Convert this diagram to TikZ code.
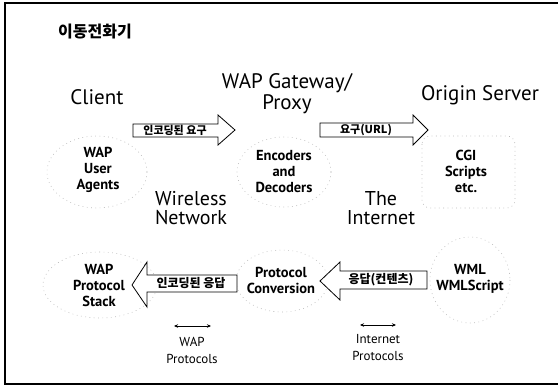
\documentclass[tikz,border=0pt]{standalone}
\usepackage{fontspec}
\setmainfont{PT Sans}
\newfontfamily\kr{Noto Sans CJK KR}
\usetikzlibrary{arrows.meta}

\tikzset{
  heading/.style={font=\fontsize{21}{21}\selectfont, inner sep=0pt, align=center},
  zone/.style={font=\fontsize{20}{19.5}\selectfont, inner sep=0pt, align=center},
  part/.style={font=\bfseries\fontsize{14.5}{16}\selectfont, inner sep=0pt, align=center},
  proto/.style={font=\fontsize{13}{17}\selectfont, inner sep=0pt, align=center},
  blockarrow/.style={draw=black, line width=0.8pt, fill=white, line join=miter},
  arrowtext/.style={font=\kr\bfseries\fontsize{11}{11}\selectfont, inner sep=0pt},
  halo/.style={draw=gray!55, line width=0.6pt, dash pattern=on 0.8pt off 3.5pt},
  span/.style={{Stealth[length=4pt,width=3.5pt]}-{Stealth[length=4pt,width=3.5pt]}, line width=0.8pt},
  frame/.style={line width=2pt}
}

\begin{document}
\begin{tikzpicture}[x=1pt,y=-1pt]
\useasboundingbox (0,0) rectangle (558,385);

% page frame (left, top, bottom edges)
\draw[frame] (558,3) -- (5,3) -- (5,384) -- (558,384);

% title
\node[font=\kr\bfseries\fontsize{16}{16}\selectfont, inner sep=0pt] (title) at (95,32) {이동전화기};

% column headings
\node[heading] (client) at (97,97) {Client};
\node[heading] (gateway) at (287,94) {WAP Gateway/\\Proxy};
\node[heading] (origin) at (480,95) {Origin Server};

% dotted halos round the components
\draw[halo] (97,172) ellipse [x radius=50, y radius=36];
\draw[halo] (284,172) ellipse [x radius=47, y radius=35];
\draw[halo] (100,285) ellipse [x radius=57, y radius=33];
\draw[halo] (282,281) ellipse [x radius=46, y radius=31];
\draw[halo] (470,280) ellipse [x radius=40, y radius=43];
\draw[halo, rounded corners=8pt] (422,136) rectangle (515,208);

% components
\node[part] (agents) at (98,170) {WAP\\User\\Agents};
\node[part] (codec) at (284,172) {Encoders\\and\\Decoders};
\node[part] (cgi) at (466,171) {CGI\\Scripts\\etc.};
\node[part] (stack) at (99,285) {WAP\\Protocol\\Stack};
\node[part] (conv) at (281,280) {Protocol\\Conversion};
\node[part] (wml) at (470,279) {WML\\WMLScript};

% network zones
\node[zone] (wireless) at (191,208) {Wireless\\Network};
\node[zone] (internet) at (381,208) {The\\Internet};

% request arrows (left to right)
\draw[blockarrow] (133,124) -- (218,124) -- (218,115) -- (235,130)
  -- (218,145) -- (218,137) -- (133,137) -- cycle;
\node[arrowtext] (req1) at (175,130.5) {인코딩된 요구};

\draw[blockarrow] (320,123) -- (413,123) -- (413,115) -- (428,130)
  -- (413,145) -- (413,137) -- (320,137) -- cycle;
\node[arrowtext] (req2) at (366,130) {요구(URL)};

% response arrows (right to left)
\draw[blockarrow] (237,275) -- (147,275) -- (147,262) -- (132,285)
  -- (147,307) -- (147,292) -- (237,292) -- cycle;
\node[arrowtext, font=\kr\bfseries\fontsize{12}{12}\selectfont] (resp1) at (191,283.5) {인코딩된 응답};

\draw[blockarrow] (427,271) -- (340,271) -- (340,262) -- (320,281)
  -- (340,300) -- (340,289) -- (427,289) -- cycle;
\node[arrowtext, font=\kr\bfseries\fontsize{12}{12}\selectfont] (resp2) at (381,280) {응답(컨텐츠)};

% protocol spans
\coordinate (wapL) at (174,326);
\coordinate (wapR) at (211,326);
\draw[span] (wapL) -- (wapR);
\node[proto] (wapproto) at (192,350) {WAP\\Protocols};

\coordinate (inetL) at (360,325);
\coordinate (inetR) at (396,325);
\draw[span] (inetL) -- (inetR);
\node[proto] (inetproto) at (378,348) {Internet\\Protocols};
\end{tikzpicture}
\end{document}
